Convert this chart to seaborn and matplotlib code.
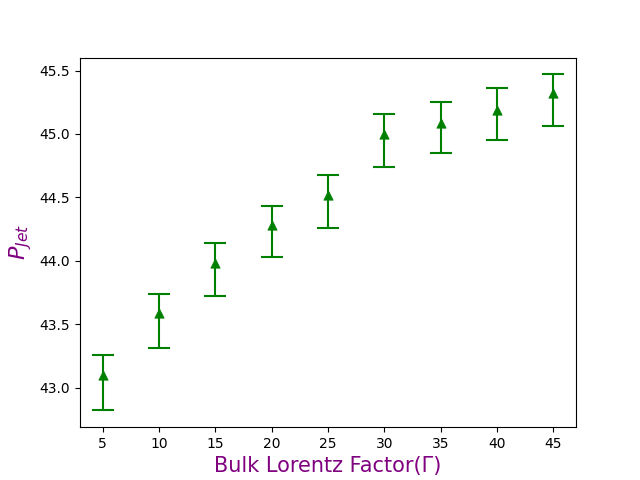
import matplotlib
matplotlib.use('Agg')
from matplotlib import pyplot as plt
import seaborn as sns
import pandas as pd

# Lorentz faktörü ve jet gücü değerleri
gamma = [5, 10, 15, 20, 25, 30, 35, 40, 45]
p_jet = [43.10, 43.59, 43.98, 44.28, 44.52, 45.00, 45.09, 45.19, 45.32]
err_up = [0.16, 0.15, 0.16, 0.15, 0.16, 0.16, 0.16, 0.17, 0.15]
err_down = [0.28, 0.28, 0.26, 0.25, 0.26, 0.26, 0.24, 0.24, 0.26]

df = pd.DataFrame({'gamma': gamma, 'p_jet': p_jet})

fig, ax = plt.subplots(figsize=(6.4, 4.8), dpi=100)
ax.errorbar(df['gamma'], df['p_jet'], yerr=[err_down, err_up], fmt='none',
            ecolor='green', capsize=8, elinewidth=1.5, capthick=1.5)
sns.scatterplot(data=df, x='gamma', y='p_jet', marker='^', color='green',
                edgecolor='green', s=45, ax=ax, zorder=3)

ax.set_xticks(gamma)
ax.set_xlabel('Bulk Lorentz Factor(Γ)', color='purple', fontsize=15)
ax.set_ylabel('$P_{Jet}$', color='purple', fontsize=16)

plt.savefig('out.png')
